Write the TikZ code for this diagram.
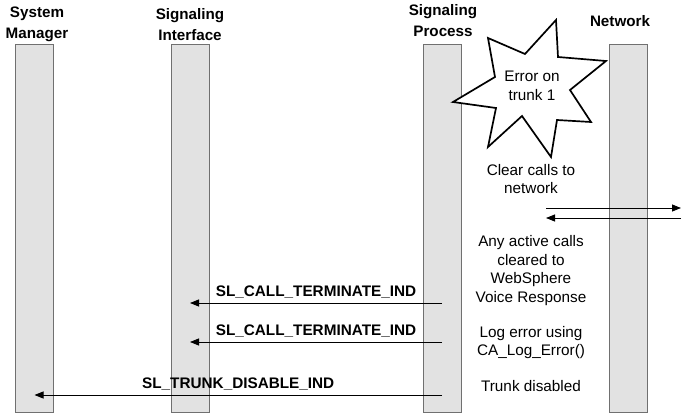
\documentclass[tikz,border=0pt]{standalone}
\usepackage{fontspec}
\setmainfont{Liberation Sans}
\usepackage{tikz}
\usetikzlibrary{arrows.meta,positioning}
\definecolor{barfill}{HTML}{E2E2E2}
\definecolor{bardraw}{HTML}{707070}

\begin{document}
\begin{tikzpicture}[
  x=1pt,y=-1pt,
  lifeline/.style={draw=bardraw,fill=barfill,line width=1pt,
    minimum width=38pt,minimum height=367pt,inner sep=0pt},
  head/.style={align=center,font=\fontsize{15.2}{21}\selectfont\bfseries},
  note/.style={align=center,font=\fontsize{15.3}{18.6}\selectfont},
  msglabel/.style={font=\fontsize{15.3}{17}\selectfont\bfseries,above,inner sep=4.5pt},
  msg/.style={-{Triangle[length=9pt,width=7pt]},line width=0.8pt}
]
\useasboundingbox (0,0) rectangle (686,420);
% lifelines
\node[lifeline] (sm) at (34.5,228.5) {};
\node[lifeline] (si) at (190,228.5) {};
\node[lifeline] (sp) at (442,228.5) {};
\node[lifeline] (nw) at (628,228.5) {};
% headings
\node[head] (smhead) at (37,24.5) {System\\Manager};
\node[head] (sihead) at (190,24.5) {Signaling\\Interface};
\node[head] (sphead) at (443,20.5) {Signaling\\Process};
\node[head] (nwhead) at (620,21) {Network};
% error starburst
\draw[line width=1.7pt,fill=white,line join=miter]
  (556,20) -- (558,57) -- (606,61) -- (570,90) -- (591,122) -- (557,120)
  -- (551,157) -- (522,116) -- (488,147) -- (496,108) -- (453,102)
  -- (495,77) -- (488,38) -- (525,54) -- cycle;
\node[note] (err) at (532,86) {Error on\\trunk 1};
% notes
\node[note] (clear) at (531,179) {Clear calls to\\network};
\node[note] (active) at (531,270.5) {Any active calls\\cleared to\\WebSphere\\Voice Response};
\node[note] (logerr) at (531,342.5) {Log error using\\CA\_Log\_Error()};
\node[note] (disabled) at (531,386) {Trunk disabled};
% messages
\coordinate (c1) at (546,208);
\coordinate (c2) at (681,208);
\coordinate (c3) at (681,218);
\coordinate (c4) at (546,218);
\coordinate (m1) at (0,303);
\coordinate (m2) at (0,342);
\coordinate (m3) at (0,395);
\draw[msg] (c1) -- (c2);
\draw[msg] (c3) -- (c4);
\draw[msg] (m1 -| sp) -- node[msglabel]{SL\_CALL\_TERMINATE\_IND} (m1 -| si);
\draw[msg] (m2 -| sp) -- node[msglabel]{SL\_CALL\_TERMINATE\_IND} (m2 -| si);
\draw[msg] (m3 -| sp) -- node[msglabel]{SL\_TRUNK\_DISABLE\_IND} (m3 -| sm);
\end{tikzpicture}
\end{document}
